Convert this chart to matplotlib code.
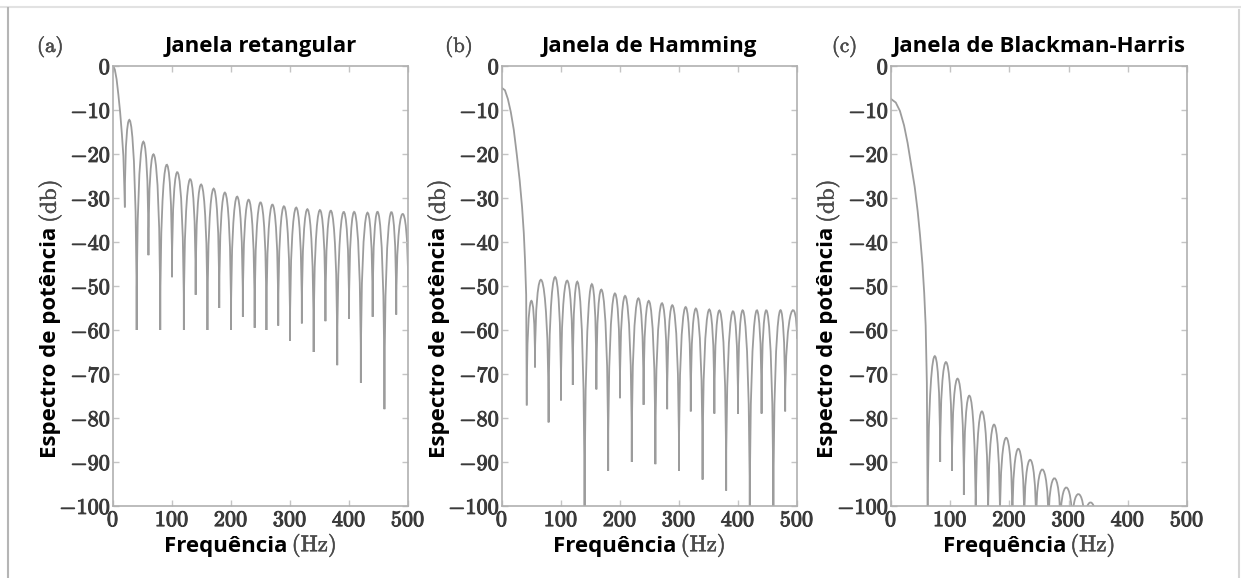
import matplotlib
matplotlib.use('Agg')
import matplotlib.pyplot as plt
import matplotlib.patheffects as pe
from matplotlib.path import Path
from matplotlib.patches import PathPatch
from matplotlib.ticker import FuncFormatter, MultipleLocator
from matplotlib.lines import Line2D

plt.rcParams['mathtext.fontset'] = 'cm'

titles = ['Janela retangular', 'Janela de Hamming', 'Janela de Blackman-Harris']
tags = ['(a)', '(b)', '(c)']

# values: main lobe samples (Hz, dB), then the
# side lobes as null positions / null depths / lobe peak levels
rect_main_f = [0, 3, 6, 9, 12, 15, 17.5, 19, 20]
rect_main_db = [0, -0.8, -3, -6.5, -10.5, -15.5, -20.5, -27, -32]
rect_null_f = [20, 40, 60, 80, 100, 120, 140, 160, 180, 200, 220, 240, 260,
               280, 300, 320, 340, 360, 380, 400, 420, 440, 460, 480, 500]
rect_null_db = [-32, -60, -43, -60, -48, -60, -52, -60, -55, -60, -57, -59.5, -60,
                -59, -62.5, -58.5, -65, -58, -68, -57.5, -72, -57, -78, -56.5, -50]
rect_peak_db = [-13.1, -17.5, -20.4, -22.6, -24.3, -25.8, -27, -27.9, -28.8, -29.7,
                -30.4, -31, -31.5, -31.9, -32.2, -32.6, -32.8, -33, -33.3, -33.4,
                -33.6, -33.6, -33.7, -33.7]

hamm_main_f = [0, 5, 10, 15, 20, 25, 30, 34, 37, 39, 41, 42]
hamm_main_db = [-5, -5.5, -7.5, -10.5, -14.5, -20, -26, -32, -38, -44, -52, -77]
hamm_null_f = [42, 56, 79, 100, 120, 140, 160, 180, 200, 220, 240, 260, 280,
               300, 320, 340, 360, 380, 400, 420, 440, 460, 480, 500]
hamm_null_db = [-77, -68.5, -81, -76, -72.5, -105, -73.5, -92, -75.5, -90, -77, -90.5,
                -78, -92, -78.5, -94, -79, -96.5, -79, -105, -79, -105, -78.5, -62]
hamm_peak_db = [-53.5, -48.8, -48, -48.8, -50, -50.5, -51.2, -52, -52.5, -53, -53.6,
                -54.1, -54.6, -55, -55.4, -55.6, -55.9, -56.1, -56.2, -56.2, -56.2,
                -56.2, -56.2]

bh_main_f = [0, 8, 15, 22, 28, 34, 40, 45, 49, 53, 56, 58.5, 60.5, 62]
bh_main_db = [-7.5, -8.3, -10.2, -13.5, -17.5, -22.5, -27.5, -33, -38.5, -45,
              -51.5, -59, -72, -105]
bh_null_f = [62, 83, 103, 123, 143, 164, 184, 205, 225, 245, 266, 286, 306, 327, 347]
bh_null_db = [-105, -90, -92, -97.5, -105, -105, -105, -105, -105, -105, -105, -105,
              -105, -105, -105]
bh_peak_db = [-66.2, -67.3, -71.1, -75, -78.5, -81.5, -84.5, -87, -89.5, -91.7,
              -93.7, -95.8, -97.3, -99.2]

panels = [
    (rect_main_f, rect_main_db, rect_null_f, rect_null_db, rect_peak_db),
    (hamm_main_f, hamm_main_db, hamm_null_f, hamm_null_db, hamm_peak_db),
    (bh_main_f, bh_main_db, bh_null_f, bh_null_db, bh_peak_db),
]

LINE = '#9c9c9c'
SPINE = '#b0b0b0'
SERIF = '#4a4a4a'
TICKTXT = '#3a3a3a'

# axes boxes in figure fractions, and x of the (a)/(b)/(c) tags in axes fractions
boxes = [(0.0911, 0.1246, 0.2377, 0.7612),
         (0.4045, 0.1246, 0.2377, 0.7612),
         (0.7180, 0.1246, 0.2385, 0.7612)]
tag_x = [-0.258, -0.193, -0.20]


def draw_spectrum(ax, main_f, main_db, null_f, null_db, peak_db):
    ax.plot(main_f, main_db, color=LINE, lw=1.3)
    # each side lobe: cubic bezier between two nulls, vertical at the nulls
    verts = [(null_f[0], null_db[0])]
    codes = [Path.MOVETO]
    for i, p in enumerate(peak_db):
        x0, x1 = null_f[i], null_f[i + 1]
        d0, d1 = null_db[i], null_db[i + 1]
        h = (p - (d0 + d1) / 8) * 4 / 3
        verts += [(x0, h), (x1, h), (x1, d1)]
        codes += [Path.CURVE4] * 3
    ax.add_patch(PathPatch(Path(verts, codes), fill=False, ec=LINE, lw=1.3))


def setup_axes(ax, title, tag, tx):
    ax.set_xlim(0, 500)
    ax.set_ylim(-100, 0)
    ax.xaxis.set_major_locator(MultipleLocator(100))
    ax.yaxis.set_major_locator(MultipleLocator(10))
    fmt = FuncFormatter(lambda v, pos: '$%d$' % round(v))
    ax.xaxis.set_major_formatter(fmt)
    ax.yaxis.set_major_formatter(fmt)
    ax.tick_params(direction='in', length=4, width=1, color='#c4c4c4',
                   top=True, right=True, labelsize=16, labelcolor=TICKTXT)
    ax.tick_params(axis='y', pad=1.5)
    ax.tick_params(axis='x', pad=3)
    heavy = [pe.withStroke(linewidth=0.7, foreground=TICKTXT)]
    for lab in ax.get_xticklabels() + ax.get_yticklabels():
        lab.set_path_effects(heavy)
    for s in ax.spines.values():
        s.set_color(SPINE)
        s.set_linewidth(1.2)

    soft = [pe.withStroke(linewidth=0.4, foreground=SERIF)]
    ax.set_title(title, fontfamily='Open Sans', fontweight='bold', fontsize=16, pad=10)
    ax.text(tx, 1.032, tag, transform=ax.transAxes, fontfamily='cmr10',
            fontsize=15, color=SERIF, ha='left', va='baseline', path_effects=soft)

    xl = ax.text(0.592, -0.105, 'Frequência', transform=ax.transAxes,
                 fontfamily='Open Sans', fontweight='bold', fontsize=16,
                 ha='right', va='baseline')
    ax.annotate('(Hz)', xy=(1, 0), xycoords=xl, xytext=(4, 0),
                textcoords='offset pixels', fontfamily='cmr10', fontsize=16.5,
                color=SERIF, ha='left', va='bottom', path_effects=soft)

    yl = ax.text(-0.213, 0.109, 'Espectro de potência', transform=ax.transAxes,
                 fontfamily='Open Sans', fontweight='bold', fontsize=16,
                 rotation=90, ha='center', va='bottom')
    ax.annotate('(db)', xy=(0.5, 1), xycoords=yl, xytext=(0, 4),
                textcoords='offset pixels', fontfamily='cmr10', fontsize=16.5,
                color=SERIF, rotation=90, ha='center', va='bottom', path_effects=soft)


fig = plt.figure(figsize=(12.41, 5.78), dpi=100)

for i in range(3):
    ax = fig.add_axes(boxes[i])
    draw_spectrum(ax, *panels[i])
    setup_axes(ax, titles[i], tags[i], tag_x[i])

# thin frame around the picture
fig.add_artist(Line2D([0, 1], [1 - 7 / 578] * 2, transform=fig.transFigure,
                      color='#e2e2e2', lw=1.5))
fig.add_artist(Line2D([8 / 1241] * 2, [0, 1 - 8 / 578], transform=fig.transFigure,
                      color='#b5b5b5', lw=1.5))
fig.add_artist(Line2D([1239 / 1241] * 2, [0, 1 - 10 / 578], transform=fig.transFigure,
                      color='#d5d5d5', lw=1.5))

fig.savefig('out.png', dpi=100)
